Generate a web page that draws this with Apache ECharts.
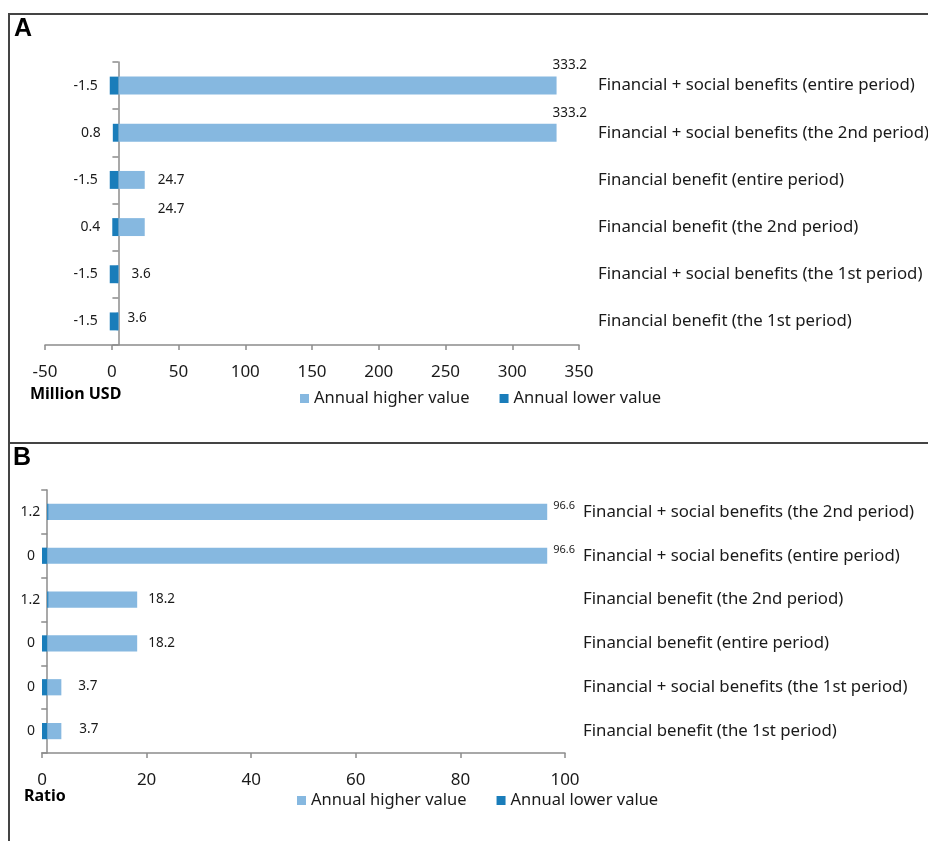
<!DOCTYPE html>
<html>
<head>
<meta charset="utf-8">
<script src="https://cdn.jsdelivr.net/npm/echarts@6/dist/echarts.min.js"></script>
<style>
  html, body { margin: 0; padding: 0; background: #fff; }
  #main { width: 928px; height: 841px; }
</style>
</head>
<body>
<div id="main"></div>
<script>
// Panel A (Million USD), rows listed top to bottom
var catsA = [
    'Financial + social benefits (entire period)',
    'Financial + social benefits (the 2nd period)',
    'Financial benefit (entire period)',
    'Financial benefit (the 2nd period)',
    'Financial + social benefits (the 1st period)',
    'Financial benefit (the 1st period)'
];
var highA = [333.2, 333.2, 24.7, 24.7, 3.6, 3.6];
var lowA = [-1.5, 0.8, -1.5, 0.4, -1.5, -1.5];
var ticksA = [-50, 0, 50, 100, 150, 200, 250, 300, 350];
var crossA = 5; // where the vertical axis crosses the value axis

// Panel B (Ratio), rows listed top to bottom
var catsB = [
    'Financial + social benefits (the 2nd period)',
    'Financial + social benefits (entire period)',
    'Financial benefit (the 2nd period)',
    'Financial benefit (entire period)',
    'Financial + social benefits (the 1st period)',
    'Financial benefit (the 1st period)'
];
var highB = [96.6, 96.6, 18.2, 18.2, 3.7, 3.7];
var lowB = [1.2, 0, 1.2, 0, 0, 0];
var ticksB = [0, 20, 40, 60, 80, 100];
var crossB = 1;

var seriesNames = ['Annual higher value', 'Annual lower value'];

// label nudges [dx, dy, fontSize] for the higher-value labels
var nudgeA = [[-4, -20, 13.5], [-4, -20, 13.5], [13, 0, 13.5], [13, -18, 13.5], [15, 0, 13.5], [11, -3, 13.5]];
var nudgeB = [[6, -6, 11], [6, -6, 11], [11, 0, 13.5], [11, 0, 13.5], [17, -1, 13.5], [18, -2, 13.5]];

var FONT = '"Noto Sans", sans-serif';
var LIGHT = '#86b8e0';
var DARK = '#1a7dba';
var AXIS = '#8c8c8c';
var TEXT = '#1a1a1a';

function rangeBars(name, color, values, cross, xIdx, yIdx, ratio, labelPos) {
    var data = values.map(function (v, i) { return [v, i]; });
    return {
        type: 'custom',
        name: name,
        xAxisIndex: xIdx,
        yAxisIndex: yIdx,
        itemStyle: {color: color},
        encode: {x: 0, y: 1},
        data: data,
        renderItem: function (params, api) {
            var v = api.value(0);
            var i = api.value(1);
            var p0 = api.coord([cross, i]);
            var p1 = api.coord([v, i]);
            var h = api.size([0, 1])[1] * ratio;
            var lbl = labelPos(i, v, p0, p1);
            return {
                type: 'group',
                children: [{
                    type: 'rect',
                    shape: {x: Math.min(p0[0], p1[0]), y: p0[1] - h / 2, width: Math.abs(p1[0] - p0[0]), height: h},
                    style: {fill: color}
                }, {
                    type: 'text',
                    x: lbl.x,
                    y: lbl.y,
                    style: {
                        text: String(v), fill: TEXT, fontSize: lbl.size, fontFamily: FONT,
                        align: lbl.align, verticalAlign: 'middle'
                    }
                }]
            };
        }
    };
}

function highLabel(nudge) {
    return function (i, v, p0, p1) {
        var n = nudge[i];
        return {x: p1[0] + n[0], y: p1[1] + n[1], size: n[2], align: 'left'};
    };
}

function lowLabel(gap) {
    return function (i, v, p0, p1) {
        return {x: Math.min(p0[0], p1[0]) - gap, y: p1[1], size: 14, align: 'right'};
    };
}

function valueAxis(grid, ticks) {
    return {
        gridIndex: grid, type: 'value',
        min: ticks[0], max: ticks[ticks.length - 1], interval: ticks[1] - ticks[0],
        axisLine: {show: true, lineStyle: {color: AXIS, width: 1.5}},
        axisTick: {show: true, length: 5, lineStyle: {color: AXIS, width: 1.5}},
        axisLabel: {color: TEXT, fontSize: 17, fontFamily: FONT, margin: 19},
        splitLine: {show: false}
    };
}

function shiftedAxis(grid, ticks, cross) {
    return {
        gridIndex: grid, type: 'value', position: 'top', show: false,
        min: ticks[0] - cross, max: ticks[ticks.length - 1] - cross
    };
}

function labelAxis(grid, cats, margin) {
    return {
        gridIndex: grid, type: 'category', data: cats, inverse: true, position: 'right',
        axisLine: {show: false, onZero: false},
        axisTick: {show: false},
        axisLabel: {color: TEXT, fontSize: 16.8, fontFamily: FONT, align: 'left', margin: margin}
    };
}

function crossAxis(grid, cats, zeroIdx) {
    return {
        gridIndex: grid, type: 'category', data: cats, inverse: true, position: 'left',
        axisLine: {show: true, onZero: true, onZeroAxisIndex: zeroIdx, lineStyle: {color: AXIS, width: 1.5}},
        axisTick: {show: true, length: 6, lineStyle: {color: AXIS, width: 1.5}},
        axisLabel: {show: false}
    };
}

function legendAt(left, top) {
    return {
        left: left, top: top, icon: 'rect', itemWidth: 9, itemHeight: 9, itemGap: 30,
        selectedMode: false, data: seriesNames,
        textStyle: {color: TEXT, fontSize: 16.5, fontFamily: FONT}
    };
}

var chart = echarts.init(document.getElementById('main'));

var option = {
    backgroundColor: '#fff',
    animation: false,
    grid: [
        {left: 45, top: 62, width: 534, height: 283, outerBoundsMode: 'none'},
        {left: 42, top: 490, width: 523, height: 263, outerBoundsMode: 'none'}
    ],
    xAxis: [
        valueAxis(0, ticksA), shiftedAxis(0, ticksA, crossA),
        valueAxis(1, ticksB), shiftedAxis(1, ticksB, crossB)
    ],
    yAxis: [
        labelAxis(0, catsA, 19), crossAxis(0, catsA, 1),
        labelAxis(1, catsB, 18), crossAxis(1, catsB, 3)
    ],
    legend: [legendAt(295, 385), legendAt(292, 787)],
    series: [
        rangeBars(seriesNames[0], LIGHT, highA, crossA, 0, 0, 0.38, highLabel(nudgeA)),
        rangeBars(seriesNames[1], DARK, lowA, crossA, 0, 0, 0.38, lowLabel(12)),
        rangeBars(seriesNames[0], LIGHT, highB, crossB, 2, 2, 0.37, highLabel(nudgeB)),
        rangeBars(seriesNames[1], DARK, lowB, crossB, 2, 2, 0.37, lowLabel(7))
    ],
    graphic: [
        {type: 'line', shape: {x1: 8, y1: 14, x2: 928, y2: 14}, style: {stroke: '#444', lineWidth: 2}},
        {type: 'line', shape: {x1: 9, y1: 14, x2: 9, y2: 841}, style: {stroke: '#444', lineWidth: 2}},
        {type: 'line', shape: {x1: 9, y1: 443, x2: 928, y2: 443}, style: {stroke: '#444', lineWidth: 2}},
        {type: 'text', left: 14, top: 17, style: {text: 'A', fill: '#000', font: 'bold 25px "Liberation Sans", Arial'}},
        {type: 'text', left: 13, top: 446, style: {text: 'B', fill: '#000', font: 'bold 25px "Liberation Sans", Arial'}},
        {type: 'text', left: 30, top: 386, style: {text: 'Million USD', fill: '#000', font: 'bold 16px "Noto Sans"'}},
        {type: 'text', left: 24, top: 788, style: {text: 'Ratio', fill: '#000', font: 'bold 16px "Noto Sans"'}}
    ]
};

chart.setOption(option);
</script>
</body>
</html>
